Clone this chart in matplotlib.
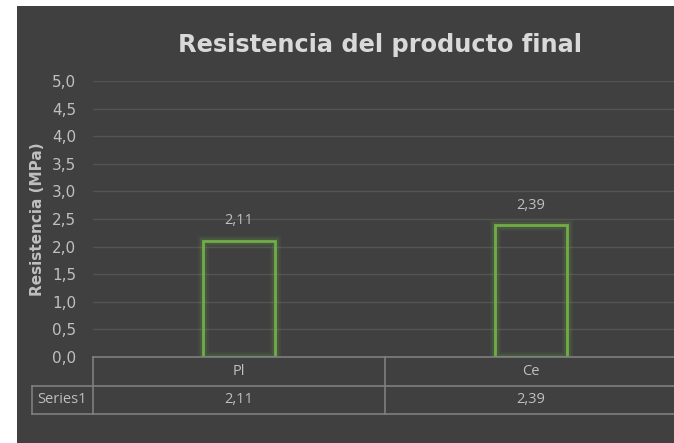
import matplotlib.pyplot as plt
from matplotlib.patches import Rectangle
import matplotlib.patheffects as pe

categories = ['Pl', 'Ce']
values = [2.11, 2.39]
series_name = 'Series1'
yticks = [0.0, 0.5, 1.0, 1.5, 2.0, 2.5, 3.0, 3.5, 4.0, 4.5, 5.0]

W, H = 674, 443
bg = '#404040'
txt = '#bfbfbf'
grid_c = '#545454'
line_c = '#7f7f7f'
green = '#70ad47'


def fmt(v, nd):
    return f'{v:.{nd}f}'.replace('.', ',')


fig = plt.figure(figsize=(W / 100, H / 100), dpi=100)
fig.patch.set_facecolor('white')
fig.add_artist(Rectangle((17 / W, 0), 1, 1 - 6 / H, transform=fig.transFigure,
                         facecolor=bg, edgecolor='none', zorder=-10))

# plot area in pixel terms
left, right, top, bottom = 93, 677, 81, 357
ax = fig.add_axes([left / W, 1 - bottom / H, (right - left) / W, (bottom - top) / H])
ax.set_facecolor('none')
for s in ax.spines.values():
    s.set_visible(False)

x = list(range(len(categories)))
bars = ax.bar(x, values, width=0.245, facecolor='none', edgecolor=green, linewidth=2,
              zorder=3)
for b in bars:
    b.set_path_effects([pe.Stroke(linewidth=8, foreground=green, alpha=0.08),
                        pe.Stroke(linewidth=5, foreground=green, alpha=0.15),
                        pe.Normal()])
for xi, v in zip(x, values):
    ax.annotate(fmt(v, 2), (xi, v), xytext=(0, 9), textcoords='offset points',
                ha='center', va='bottom', color=txt, fontsize=10.5, family='Open Sans')

ax.set_xlim(-0.5, len(categories) - 0.5)
ax.set_ylim(0, 5)
ax.set_yticks(yticks)
ax.set_yticklabels([fmt(t, 1) for t in yticks], color=txt, fontsize=11,
                   family='DejaVu Sans')
ax.tick_params(axis='y', length=0, pad=12)
ax.set_xticks([])
for t in yticks[1:]:
    ax.axhline(t, color=grid_c, linewidth=1, zorder=1)

ax.set_ylabel('Resistencia (MPa)', color=txt, fontsize=11, fontweight='bold',
              family='DejaVu Sans')
ax.yaxis.set_label_coords(-(left - 45) / (right - left), 0.5)

fig.text(380 / W, 1 - 45 / H, 'Resistencia del producto final', color='#d9d9d9',
         fontsize=17.3, fontweight='bold', family='DejaVu Sans', ha='center', va='center')

# data table below the axis
row_h = 28.5 / (bottom - top) * 5
lab_left = -0.5 - (left - 32) / (right - left) * len(categories)
kw = dict(color=line_c, linewidth=1.2, clip_on=False, zorder=4)
ax.plot([-0.5, len(categories) - 0.5], [0, 0], **kw)
ax.plot([lab_left, len(categories) - 0.5], [-row_h, -row_h], **kw)
ax.plot([lab_left, len(categories) - 0.5], [-2 * row_h, -2 * row_h], **kw)
ax.plot([lab_left, lab_left], [-row_h, -2 * row_h], **kw)
for xb in [i - 0.5 for i in range(len(categories) + 1)]:
    ax.plot([xb, xb], [0, -2 * row_h], **kw)
for xi, c, v in zip(x, categories, values):
    ax.text(xi, -0.5 * row_h, c, color=txt, fontsize=10.5, family='Open Sans',
            ha='center', va='center')
    ax.text(xi, -1.5 * row_h, fmt(v, 2), color=txt, fontsize=10.5, family='Open Sans',
            ha='center', va='center')
ax.text((lab_left - 0.5) / 2, -1.5 * row_h, series_name, color=txt, fontsize=10.5,
        family='Open Sans', ha='center', va='center')

fig.savefig('out.png', dpi=100, facecolor=fig.get_facecolor())
